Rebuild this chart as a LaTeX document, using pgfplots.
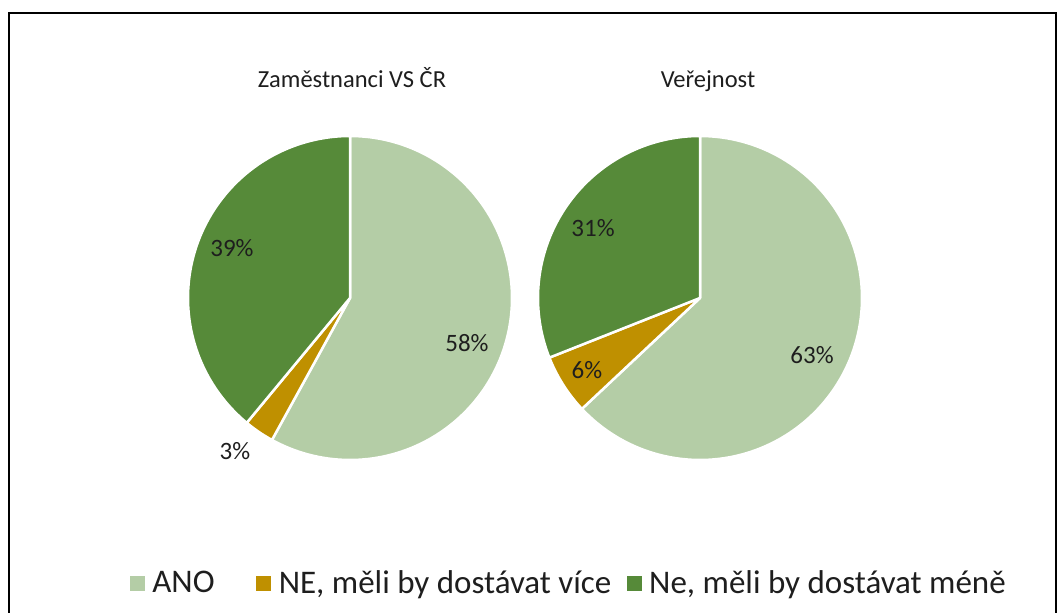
\documentclass[border=0pt]{standalone}
\usepackage{fontspec}
\setmainfont{Carlito}
\usepackage{pgfplots}
\pgfplotsset{compat=1.18}
\definecolor{ano}{RGB}{180,205,166}
\definecolor{vice}{RGB}{191,144,0}
\definecolor{mene}{RGB}{86,138,57}
\definecolor{txt}{RGB}{30,30,30}
\pgfplotsset{
  sq/.style={legend image code/.code={\fill[##1] (0pt,-7pt) rectangle (14pt,7pt);}},
  slice/.style={draw=white, line width=2.5pt, line join=round, samples=120, variable=\t, forget plot},
}
\begin{document}
\begin{tikzpicture}
\begin{axis}[
  at={(0,0)}, anchor=south west,
  width=1058pt, height=613pt, scale only axis,
  xmin=0, xmax=1058, ymin=0, ymax=613,
  hide axis, clip=false,
  legend columns=3,
  legend style={draw=none, fill=none, inner sep=0pt, outer sep=0pt,
    at={(130/1058,30/613)}, anchor=west,
    font=\fontsize{33}{39}\selectfont, text=txt,
    nodes={inner sep=0pt, outer sep=0pt},
    /tikz/every odd column/.style={column sep=8pt},
    /tikz/every even column/.style={column sep=0pt}},
]
% ---- Zaměstnanci VS ČR: ANO 58, více 3, méně 39 (clockwise from top)
\addplot[slice, fill=ano,  domain={90-58*3.6}:90] ({350+162*cos(\t)},{315+162*sin(\t)}) -- (350,315) -- cycle;
\addplot[slice, fill=vice, domain={90-61*3.6}:{90-58*3.6}] ({350+162*cos(\t)},{315+162*sin(\t)}) -- (350,315) -- cycle;
\addplot[slice, fill=mene, domain={90-100*3.6}:{90-61*3.6}] ({350+162*cos(\t)},{315+162*sin(\t)}) -- (350,315) -- cycle;
% ---- Veřejnost: ANO 63, více 6, méně 31
\addplot[slice, fill=ano,  domain={90-63*3.6}:90] ({700+162*cos(\t)},{315+162*sin(\t)}) -- (700,315) -- cycle;
\addplot[slice, fill=vice, domain={90-69*3.6}:{90-63*3.6}] ({700+162*cos(\t)},{315+162*sin(\t)}) -- (700,315) -- cycle;
\addplot[slice, fill=mene, domain={90-100*3.6}:{90-69*3.6}] ({700+162*cos(\t)},{315+162*sin(\t)}) -- (700,315) -- cycle;
% legend
\addlegendimage{sq, ano}
\addlegendentry{\hbox to 104pt{ANO\hfil}}
\addlegendimage{sq, vice}
\addlegendentry{\hbox to 348pt{NE, měli by dostávat více\hfil}}
\addlegendimage{sq, mene}
\addlegendentry{Ne, měli by dostávat méně}
% titles
\node[anchor=base, font=\fontsize{24.5}{29}\selectfont, text=txt] at (axis cs:352,525) {Zaměstnanci VS ČR};
\node[anchor=base, font=\fontsize{24.5}{29}\selectfont, text=txt] at (axis cs:708,525) {Veřejnost};
% data labels
\begin{scope}[every node/.style={font=\fontsize{25}{30}\selectfont, text=txt, inner sep=0pt}]
\node at (axis cs:467,269.5) {58\%};
\node at (axis cs:232,365) {39\%};
\node at (axis cs:235,162) {3\%};
\node at (axis cs:812,258) {63\%};
\node at (axis cs:593,385) {31\%};
\node at (axis cs:587,243) {6\%};
\end{scope}
\end{axis}
\draw[line width=2pt] (9pt,600pt) rectangle (1056pt,-20pt);
\pgfresetboundingbox
\useasboundingbox (0,0) rectangle (1058pt,613pt);
\end{tikzpicture}
\end{document}
